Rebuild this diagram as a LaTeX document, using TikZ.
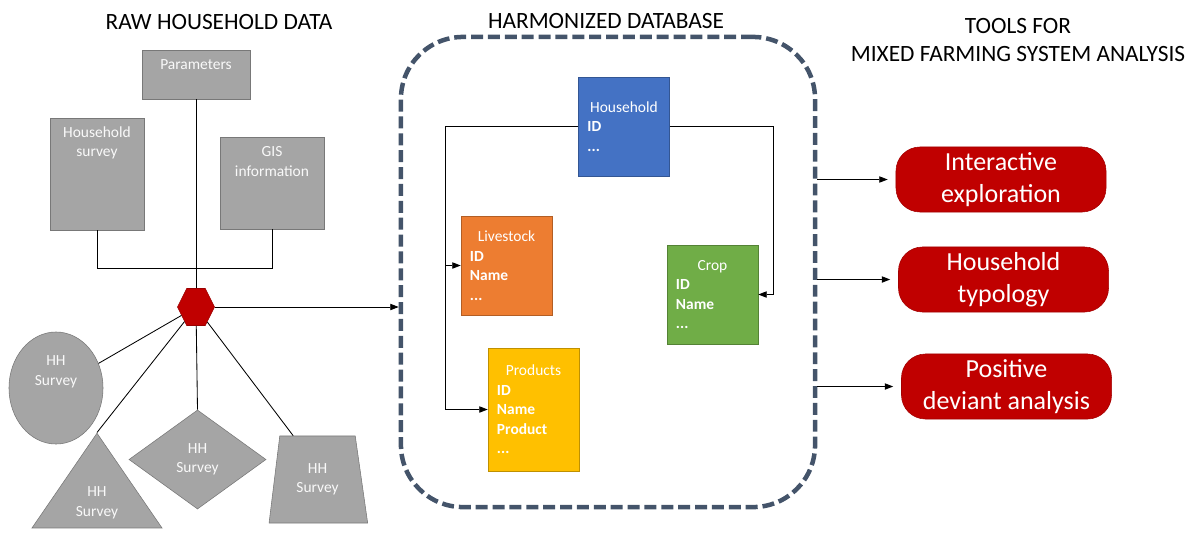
\documentclass[tikz,border=0pt]{standalone}
\usepackage{fontspec}
\setmainfont{Carlito}
\usetikzlibrary{positioning, shapes.geometric, arrows.meta, calc}

\definecolor{rawgray}{HTML}{A5A5A5}
\definecolor{rawline}{HTML}{787878}
\definecolor{hhblue}{HTML}{4472C4}
\definecolor{livorange}{HTML}{ED7D31}
\definecolor{cropgreen}{HTML}{70AD47}
\definecolor{prodyellow}{HTML}{FFC000}
\definecolor{toolred}{HTML}{C00000}
\definecolor{frameslate}{HTML}{44546A}

% Pushes the text of a node upwards by adding empty space below it
\newcommand{\padbelow}[1]{\par\vspace*{#1}}
% Centred first line of a table box
\newcommand{\headline}[1]{\makebox[\hsize][c]{#1}}

\begin{document}
\begin{tikzpicture}[
    % GLOBAL CFG
    x=0.025cm, y=-0.025cm,
    >={Triangle[length=6pt,width=4.5pt]},
    % Styles
    heading/.style={% For the column headings
        font=\fontsize{16.6}{20}\selectfont,
        align=center,
        },
    rawbox/.style={% For the raw data boxes
        rectangle,
        draw=rawline,
        fill=rawgray,
        text=white!95!gray,
        text width=2cm,
        inner ysep=2pt,
        align=center,
        font=\fontsize{11}{13.9}\selectfont,
        },
    hhshape/.style={% For the HH survey shapes
        draw=rawline,
        fill=rawgray,
        text=white!95!gray,
        text width=1.3cm,
        inner sep=0pt,
        align=center,
        font=\fontsize{11}{13.9}\selectfont,
        },
    hub/.style={% For the red joining hexagon
        regular polygon,
        regular polygon sides=6,
        minimum size=0.925cm,
        inner sep=0pt,
        draw=toolred!80!black,
        fill=toolred,
        },
    dbframe/.style={% For the dashed database frame
        rectangle,
        rounded corners=1.55cm,
        draw=frameslate,
        line width=3.2pt,
        dash pattern=on 8.5pt off 3.5pt,
        },
    dbtable/.style={% For the database tables
        rectangle,
        draw=#1!75!black,
        fill=#1,
        text=white,
        text width=1.825cm,
        inner xsep=0.225cm,
        align=left,
        minimum width=2.275cm,
        minimum height=2.475cm,
        font=\fontsize{11}{13.9}\selectfont,
        },
    tool/.style={% For the analysis tools
        rectangle,
        rounded corners=0.6cm,
        draw=toolred!85!black,
        fill=toolred,
        text=white,
        align=center,
        minimum width=5.25cm,
        minimum height=1.625cm,
        font=\fontsize{18.5}{22.8}\selectfont,
        },
    link/.style={% For thin connectors
        line width=0.6pt,
        },
    ]
\useasboundingbox (0,0) rectangle (1204,541);
% Headings
\node[heading] (rawhead) at (219,22) {RAW HOUSEHOLD DATA};
\node[heading] (dbhead) at (606,21) {HARMONIZED DATABASE};
\node[heading] (toolhead) at (1018,40) {TOOLS FOR\\MIXED FARMING SYSTEM ANALYSIS};
% Raw data boxes
\node[rawbox, minimum width=2.7cm, minimum height=1.225cm] (param) at (196,74.5) {Parameters\padbelow{0.475cm}};
\node[rawbox, minimum width=2.35cm, minimum height=2.8cm] (survey) at (97,174) {Household\\survey\padbelow{1.55cm}};
\node[rawbox, minimum width=2.6cm, minimum height=2.3cm] (gis) at (272,183) {GIS\\information\padbelow{1.075cm}};
% Hexagon that joins all sources
\begin{scope}[shift={(196,307)}, yscale=1.155]
    \node[hub, transform shape] (hub) at (0,0) {};
\end{scope}
% HH survey shapes
\node[hhshape, ellipse, minimum width=2.35cm, minimum height=2.8cm] (ell) at (56,388) {HH\\Survey\padbelow{0.8cm}};
\node[hhshape, isosceles triangle, isosceles triangle stretches, shape border rotate=90, minimum width=3.25cm, minimum height=2.15cm] (tri) at (97,503) {HH\\Survey};
\node[hhshape, diamond, minimum width=3.425cm, minimum height=2.475cm] (dia) at (197.5,459.5) {HH\\Survey};
\node[hhshape, trapezium, trapezium left angle=77, trapezium right angle=75, trapezium stretches, minimum width=2.475cm, minimum height=2.175cm] (trap) at (317.5,479.5) {HH\\Survey};
% Database frame and tables
\node[dbframe, minimum width=10.35cm, minimum height=11.75cm] (db) at (608,272) {};
\node[dbtable=hhblue] (hh) at (624,126.5) {\headline{Household}\\\textbf{ID}\\\textbf{...}};
\node[dbtable=livorange] (live) at (506.5,265.5) {\headline{Livestock}\\\textbf{ID}\\\textbf{Name}\\\textbf{...}};
\node[dbtable=cropgreen] (crop) at (712.5,294.5) {\headline{Crop}\\\textbf{ID}\\\textbf{Name}\\\textbf{...}};
\node[dbtable=prodyellow, minimum height=3.075cm] (prod) at (533.5,409.5) {\headline{Products}\\\textbf{ID}\\\textbf{Name}\\\textbf{Product}\\\textbf{...}};
% Tools
\node[tool] (explore) at (1001,179.5) {Interactive\\exploration};
\node[tool] (typology) at (1003.5,279.5) {Household\\typology};
\node[tool] (deviant) at (1006.5,386.5) {Positive\\deviant analysis};
% Raw data connectors
\coordinate (join) at (196,268);
\draw[link] (survey.south) -- (survey.south |- join) -| (gis.south);
\draw[link] (param) -- (hub);
\draw[link, ->] (hub) -- (hub -| db.west);
\draw[link] (hub) -- (ell);
\draw[link] (hub) -- (tri.apex);
\draw[link] (hub) -- (dia.north);
\draw[link] (hub) -- ($(trap.top left corner)!0.18!(trap.top right corner)$);
% Table connectors
\coordinate (lrail) at (445,126.5);
\coordinate (rrail) at (773,126.5);
\draw[link] (hh) -- (lrail);
\draw[link, ->] (lrail) |- (live);
\draw[link, ->] (lrail) |- (prod);
\draw[link, ->] (hh) -- (rrail) |- (crop);
% Tool connectors
\draw[link, ->, shorten >=0.2cm] (db.east |- explore) -- (explore);
\draw[link, ->, shorten >=0.2cm] (db.east |- typology) -- (typology);
\draw[link, ->, shorten >=0.2cm] (db.east |- deviant) -- (deviant);
\end{tikzpicture}
\end{document}
